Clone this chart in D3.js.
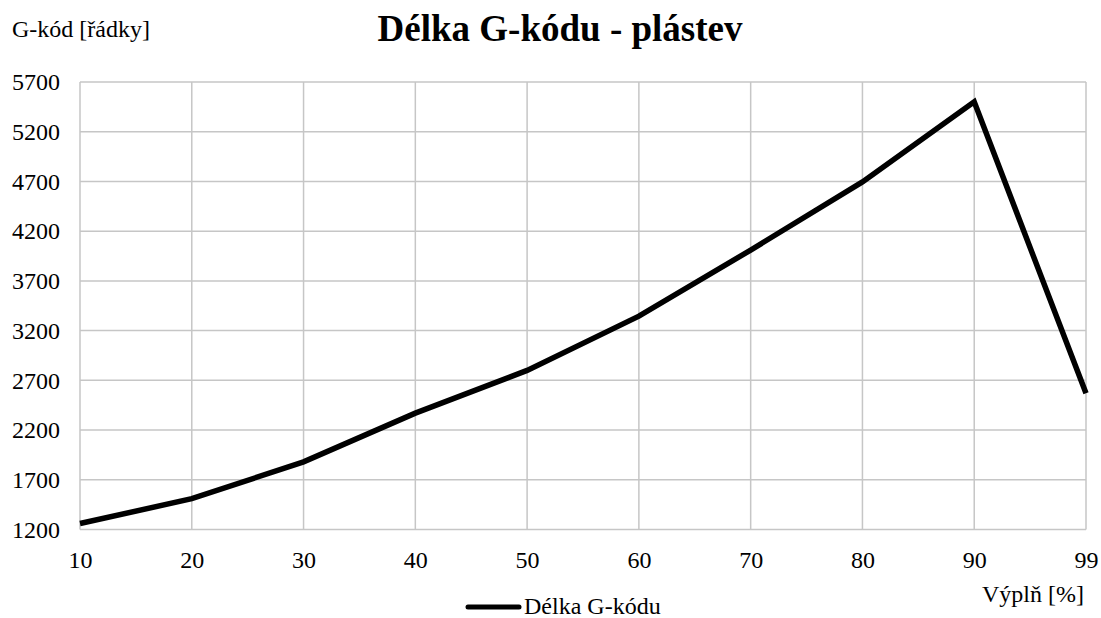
<!DOCTYPE html>
<html><head><meta charset="utf-8">
<script src="https://cdn.jsdelivr.net/npm/d3@7"></script>
<style>
html,body{margin:0;padding:0;background:#fff;}
text{font-family:"Liberation Serif","Times New Roman",serif;fill:#000;}
</style></head>
<body><svg id="c" width="1101" height="618"></svg>
<script>
const categories = ["10","20","30","40","50","60","70","80","90","99"];
const values = [1260, 1510, 1880, 2370, 2800, 3345, 4010, 4695, 5500, 2570];
const yTicks = [1200,1700,2200,2700,3200,3700,4200,4700,5200,5700];
const seriesName = "Délka G-kódu";

const svg = d3.select("#c");
const L = 80, R = 1086, T = 82, B = 529.5;
const x = d3.scalePoint().domain(categories).range([L, R]).padding(0);
const y = d3.scaleLinear().domain([1200, 5700]).range([B, T]);
const FF = "Liberation Serif";

// grid
const g = svg.append("g");
g.selectAll("line.h").data(yTicks).enter().append("line")
  .attr("x1", L).attr("x2", R).attr("y1", d => y(d)).attr("y2", d => y(d))
  .attr("stroke", "#c6c6c6").attr("stroke-width", 1.5);
g.selectAll("line.v").data(categories).enter().append("line")
  .attr("x1", d => x(d)).attr("x2", d => x(d)).attr("y1", T).attr("y2", B)
  .attr("stroke", "#c6c6c6").attr("stroke-width", 1.5);

// axes
const ya = svg.append("g").attr("transform", `translate(${L},0)`)
  .call(d3.axisLeft(y).tickValues(yTicks).tickFormat(d3.format("d")).tickSize(0).tickPadding(20));
ya.select(".domain").remove();
ya.attr("font-family", FF).attr("font-size", 24);
ya.selectAll("text").attr("fill", "#000");

const xa = svg.append("g").attr("transform", `translate(0,${B})`)
  .call(d3.axisBottom(x).tickSize(0).tickPadding(21));
xa.select(".domain").remove();
xa.attr("font-family", FF).attr("font-size", 24);
xa.selectAll("text").attr("fill", "#000");

// line
const line = d3.line().x((d, i) => x(categories[i])).y(d => y(d));
svg.append("path").datum(values).attr("d", line)
  .attr("fill", "none").attr("stroke", "#000").attr("stroke-width", 5.5)
  .attr("stroke-linejoin", "miter").attr("stroke-linecap", "butt");

// texts
svg.append("text").attr("x", 560).attr("y", 41).attr("text-anchor", "middle")
  .attr("font-size", 37).attr("font-weight", "bold").text("Délka G-kódu - plástev");
svg.append("text").attr("x", 12).attr("y", 37).attr("font-size", 24).text("G-kód [řádky]");
svg.append("text").attr("x", 1084).attr("y", 602).attr("text-anchor", "end")
  .attr("font-size", 24).text("Výplň [%]");

// legend
svg.append("line").attr("x1", 468).attr("x2", 519).attr("y1", 607).attr("y2", 607)
  .attr("stroke", "#000").attr("stroke-width", 5).attr("stroke-linecap", "round");
svg.append("text").attr("x", 524).attr("y", 614).attr("font-size", 24).text(seriesName);
</script></body></html>
